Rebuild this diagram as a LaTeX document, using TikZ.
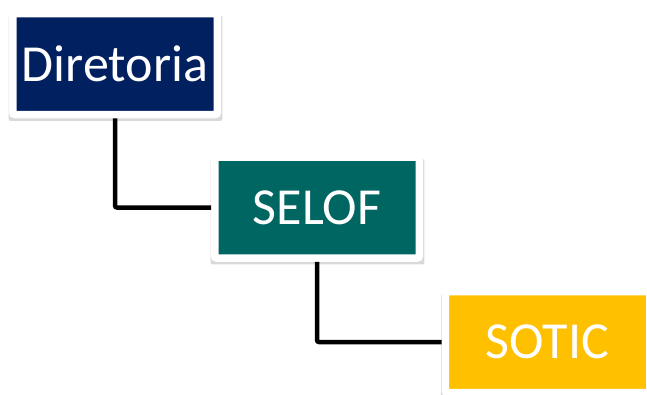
\documentclass[tikz,border=0pt]{standalone}
\usepackage{fontspec}
\setmainfont{Carlito}
\usetikzlibrary{positioning,shadows}
\definecolor{dirblue}{HTML}{002060}
\definecolor{selofgreen}{HTML}{006661}
\definecolor{soticgold}{HTML}{FFC000}

\begin{document}
\begin{tikzpicture}[
    x=1pt, y=-1pt,
    box/.style={draw=white, line width=7.5pt, rounded corners=2pt, minimum width=204.5pt, minimum height=101pt,
        text=white, font=\fontsize{52}{62}\selectfont,
        drop shadow={shadow scale=1.045, shadow xshift=0.5pt, shadow yshift=-4pt, opacity=0.15, fill=black}},
    link/.style={line width=4.5pt, draw=black, rounded corners=2pt}
]
\clip (0,0) rectangle (647,394);
\fill[white] (0,0) rectangle (647,394);

\node[box, fill=dirblue] (dir) at (115,64) {Diretoria};
\node[box, fill=selofgreen, below right=35pt and -10pt of dir] (selof) {SELOF};
\node[box, fill=soticgold, below right=26pt and 18.5pt of selof] (sotic) {SOTIC};

\draw[link] (dir.south) |- (selof.west);
\draw[link] (selof.south) |- (sotic.west);
\end{tikzpicture}
\end{document}
